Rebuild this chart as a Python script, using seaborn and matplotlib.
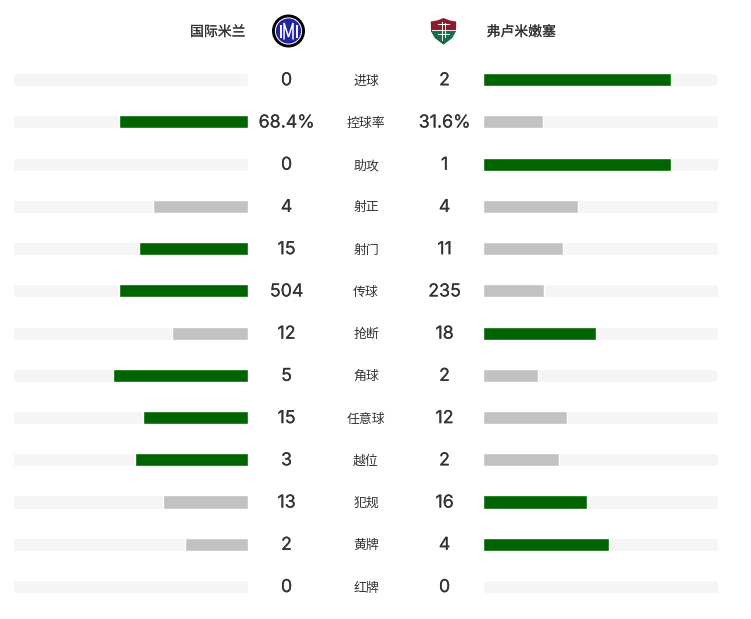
#!/usr/bin/env python
# coding: utf8

""" Match stats - Inter vs Fluminense. """

import numpy as np
import pandas as pd
import seaborn as sns
from matplotlib import pyplot as plt
from matplotlib import patheffects as pe
from matplotlib.patches import Circle, Polygon, Rectangle
from matplotlib.transforms import blended_transform_factory

stats = ['进球', '控球率', '助攻', '射正', '射门', '传球', '抢断', '角球', '任意球', '越位', '犯规', '黄牌', '红牌']
home_labels = ['0', '68.4%', '0', '4', '15', '504', '12', '5', '15', '3', '13', '2', '0']
away_labels = ['2', '31.6%', '1', '4', '11', '235', '18', '2', '12', '2', '16', '4', '0']

# bar lengths, share of the grey track
home_bar = [0, 0.549, 0, 0.404, 0.464, 0.549, 0.323, 0.575, 0.447, 0.481, 0.361, 0.267, 0]
away_bar = [0.80, 0.256, 0.80, 0.404, 0.341, 0.259, 0.482, 0.233, 0.359, 0.325, 0.444, 0.537, 0]

# winner of each row gets the green bar
home_win = [False, True, False, False, True, True, False, True, True, True, False, False, False]
away_win = [True, False, True, False, False, False, True, False, False, False, True, True, False]

GREEN = '#006400'
GREY = '#c2c2c2'
TRACK = '#f5f5f5'
TEXT = '#333333'
W, H = 751, 619

sns.set_theme(style='white')
plt.rcParams['font.family'] = ['Noto Sans CJK SC', 'DejaVu Sans']

fig = plt.figure(figsize=(W / 100, H / 100), dpi=100, facecolor='white')


def px_axes(x0, x1, y0, y1):
    return fig.add_axes([x0 / W, 1 - y1 / H, (x1 - x0) / W, (y1 - y0) / H])


def draw_side(ax, bars, wins):
    df = pd.DataFrame({'stat': stats, 'bar': bars, 'win': wins})
    df['track'] = 1.0
    sns.barplot(data=df, y='stat', x='track', color=TRACK, width=0.31, saturation=1, ax=ax)
    sns.barplot(data=df[df['win']], y='stat', x='bar', color=GREEN, width=0.31, saturation=1,
                order=stats, ax=ax)
    sns.barplot(data=df[~df['win']], y='stat', x='bar', color=GREY, width=0.31, saturation=1,
                order=stats, ax=ax)
    ax.set_xlim(0, 1)
    ax.axis('off')


row_top, row_bottom = 58.6, 607.6
ax_home = px_axes(13.2, 247.8, row_top, row_bottom)
draw_side(ax_home, home_bar, home_win)
ax_home.invert_xaxis()
ax_away = px_axes(483.2, 717.8, row_top, row_bottom)
draw_side(ax_away, away_bar, away_win)

# fake a medium weight, the fonts here only come in regular and bold
medium = [pe.withStroke(linewidth=0.12, foreground=TEXT)]
head = [pe.withStroke(linewidth=0.12, foreground=TEXT)]

# numbers and stat names sit between the two bar panels
trans = blended_transform_factory(fig.transFigure, ax_home.transData)
for i, stat in enumerate(stats):
    for x, lab in [(286.5, home_labels[i]), (444.5, away_labels[i])]:
        ax_home.text(x / W, i + 0.025, lab, transform=trans, ha='center', va='center',
                     fontsize=12.8, color=TEXT, family=['Inter', 'DejaVu Sans'], clip_on=False,
                     path_effects=medium)
    ax_home.text(366 / W, i + 0.035, stat, transform=trans, ha='center', va='center',
                 fontsize=9.3, color=TEXT, clip_on=False)

fig.text(245.5 / W, 1 - 32 / H, '国际米兰', ha='right', va='center', fontsize=10,
         color=TEXT, path_effects=head)
fig.text(486.5 / W, 1 - 32 / H, '弗卢米嫩塞', ha='left', va='center', fontsize=10,
         color=TEXT, path_effects=head)

# team badges, drawn in pixel coordinates
ax_logo = fig.add_axes([0, 0, 1, 1], facecolor='none')
ax_logo.set_xlim(0, W)
ax_logo.set_ylim(H, 0)
ax_logo.axis('off')
ax_logo.add_patch(Circle((288.5, 31), 16.5, fc='black', ec='none'))
ax_logo.add_patch(Circle((288.5, 31), 13.6, fc='white', ec='none'))
ax_logo.add_patch(Circle((288.5, 31), 12.6, fc='#2323a8', ec='none'))
# I M I letters
ax_logo.plot([280.5, 280.5], [24.5, 37.5], color='white', lw=1.4, solid_capstyle='butt')
ax_logo.plot([296.5, 296.5], [24.5, 37.5], color='white', lw=1.4, solid_capstyle='butt')
ax_logo.plot([284, 284, 288.5, 293, 293], [39, 23, 37, 23, 39], color='white', lw=1.1,
             solid_joinstyle='miter')
# shield
ax_logo.add_patch(Polygon([(430.8, 21.5), (437, 20.5), (443.5, 18), (450, 20.5), (456.2, 21.5),
                           (456, 31), (452, 38), (443.5, 44.5), (435, 38), (431, 31)],
                          closed=True, fc='#8e1c2e', ec='none'))
ax_logo.add_patch(Polygon([(431, 31), (456, 31), (452, 38), (443.5, 44.5), (435, 38)],
                          closed=True, fc='#12704a', ec='none'))
ax_logo.add_patch(Rectangle((431.5, 29.5), 24, 1.5, fc='#e8e8e8', ec='none'))
ax_logo.add_patch(Rectangle((441.5, 21.5), 1.6, 19, fc='white', ec='none'))
ax_logo.add_patch(Rectangle((445, 22.5), 1.4, 15, fc='#f0f0f0', ec='none'))
ax_logo.add_patch(Rectangle((438, 24), 12, 1.3, fc='white', ec='none'))
ax_logo.add_patch(Rectangle((438, 34), 12, 1.2, fc='#f0f0f0', ec='none'))

plt.savefig('out.png', dpi=100)
plt.close()
